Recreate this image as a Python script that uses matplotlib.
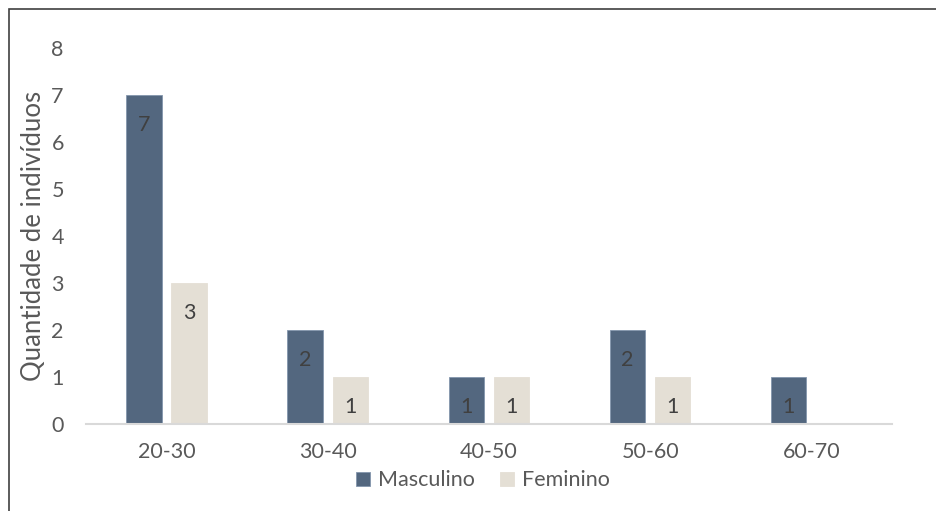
import matplotlib.pyplot as plt
import numpy as np
from matplotlib.patches import Rectangle

plt.rcParams['font.family'] = ['Lato', 'DejaVu Sans']

faixas = ["20-30", "30-40", "40-50", "50-60", "60-70"]
masculino = [7, 2, 1, 2, 1]
feminino = [3, 1, 1, 1, 0]
y_ticks = [0, 1, 2, 3, 4, 5, 6, 7, 8]

COR_M = "#53677f"
COR_F = "#e4dfd5"

fig = plt.figure(figsize=(9.36, 5.11), dpi=100)
ax = fig.add_axes([0.0919, 0.1703, 0.861, 0.736])

x = np.arange(len(faixas))
w = 0.22
off = 0.14
bm = ax.bar(x - off, masculino, w, color=COR_M, edgecolor="#8496ad", linewidth=0.6, label="Masculino")
bf = ax.bar(x + off, feminino, w, color=COR_F, edgecolor=COR_F, linewidth=0.6, label="Feminino")

# value labels sit inside the top of each bar
for bars, vals in ((bm, masculino), (bf, feminino)):
    for b, v in zip(bars, vals):
        if v == 0:
            continue
        ax.annotate(str(v), (b.get_x() + b.get_width() / 2, v), xytext=(0, -21.5),
                    textcoords="offset points", ha="center", va="center",
                    fontsize=15.5, color="#404040")

ax.set_xlim(-0.5, len(faixas) - 0.5)
ax.set_ylim(0, 8)
ax.set_yticks(y_ticks)
ax.set_xticks(x)
ax.set_xticklabels(faixas)
ax.tick_params(axis="both", length=0, labelsize=15.5, labelcolor="#595959")
ax.tick_params(axis="x", pad=13)
ax.tick_params(axis="y", pad=16)
for s in ("top", "right", "left"):
    ax.spines[s].set_visible(False)
ax.spines["bottom"].set_color("#d9d9d9")
ax.spines["bottom"].set_linewidth(1.5)

ax.set_ylabel("Quantidade de indivíduos", fontsize=18.5, color="#595959", labelpad=4)

ax.legend(loc="center", bbox_to_anchor=(0.516, 0.06), bbox_transform=fig.transFigure,
          ncol=2, frameon=False, fontsize=15.5, labelcolor="#595959",
          handlelength=0.65, handleheight=0.65, handletextpad=0.4, columnspacing=1.15)

# outer frame, only top and left edges fall inside the image
fig.patches.append(Rectangle((8.5 / 936, -0.1), 1.2, 1.1 - 9.5 / 511, transform=fig.transFigure,
                             fill=False, edgecolor="#404040", linewidth=1.2))

fig.savefig("out.png", dpi=100)
